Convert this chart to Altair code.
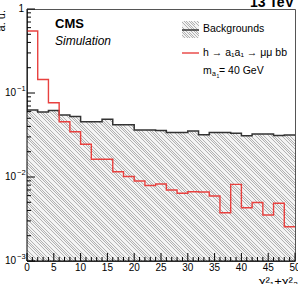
import math
import altair as alt
import pandas as pd

# chi2_1 + chi2_2 histogram, bins of width 2 between 0 and 50
bin_low = list(range(0, 50, 2))
background = [0.0628, 0.0594, 0.0619, 0.0547, 0.0525, 0.0455, 0.0455, 0.0488, 0.0420, 0.0420,
              0.0363, 0.0363, 0.0358, 0.0339, 0.0339, 0.0353, 0.0319, 0.0339, 0.0339, 0.0331,
              0.0309, 0.0325, 0.0325, 0.0311, 0.0316]
signal = [0.547, 0.145, 0.0767, 0.0455, 0.0346, 0.0245, 0.01625, 0.01625, 0.01156, 0.01014,
          0.00896, 0.00792, 0.00825, 0.0070, 0.0064, 0.00668, 0.00663, 0.00594, 0.00376, 0.00818,
          0.00431, 0.00497, 0.00353, 0.00486, 0.00256]

x_major = list(range(0, 51, 5))
x_minor = [v for v in range(0, 51) if v % 5]
y_major = [0.001, 0.01, 0.1, 1.0]
y_minor = [m * d for d in (0.001, 0.01, 0.1) for m in range(2, 10)]

W, H = 268, 252
YMIN, YMAX = 1e-3, 1.0
FONT = "Liberation Sans"
RED = "#e8413f"

# step-after histogram rows: bin left edges plus closing edge at 50
hist = pd.DataFrame({
    "x": bin_low + [50],
    "bkg": background + [background[-1]],
    "sig": signal + [signal[-1]],
})


def hatch(w, h, period=2.6, line=0.9, ink="#b2b2b2", paper="#f3f3f3"):
    """Linear gradient with hard stops that draws '\\' hatching over a w x h box."""
    r = h / w
    s = (1 + r) / (1 + r * r)
    n = (w + h) / period
    stops = []
    k = 0
    while k < n:
        a, b, c = k / n, (k + line / period) / n, (k + 1) / n
        stops += [
            {"offset": min(a, 1), "color": ink},
            {"offset": min(b, 1), "color": ink},
            {"offset": min(b, 1), "color": paper},
            {"offset": min(c, 1), "color": paper},
        ]
        k += 1
    return {"gradient": "linear", "x1": 0, "y1": 1, "x2": s, "y2": 1 - s * r, "stops": stops}


area_h = H * math.log10(max(background) / YMIN) / math.log10(YMAX / YMIN)

xs = alt.Scale(domain=[0, 50], nice=False, zero=False)
ys = alt.Scale(type="log", domain=[YMIN, YMAX], nice=False)
Xn = lambda f: alt.X(f, scale=xs, axis=None)
Yn = lambda f: alt.Y(f, scale=ys, axis=None)

bkg_fill = alt.Chart(hist).mark_area(
    interpolate="step-after", fill=hatch(W, area_h), opacity=1, strokeWidth=0
).encode(x=Xn("x:Q"), y=Yn("bkg:Q"), y2=alt.datum(YMIN))

bkg_line = alt.Chart(hist).mark_line(
    interpolate="step-after", color="#333333", strokeWidth=1.5
).encode(x=Xn("x:Q"), y=Yn("bkg:Q"))

sig_line = alt.Chart(hist).mark_line(
    interpolate="step-after", color=RED, strokeWidth=1.4
).encode(x=Xn("x:Q"), y=Yn("sig:Q"))

one = pd.DataFrame({"a": [0]})

# left and bottom axis lines
axis_lines = [
    alt.Chart(one).mark_rule(color="black", strokeWidth=1).encode(
        x=alt.value(0), y=alt.value(0), y2=alt.value(H)),
    alt.Chart(one).mark_rule(color="black", strokeWidth=1).encode(
        x=alt.value(0), x2=alt.value(W), y=alt.value(H)),
]


# inward tick marks
def yticks(vals, length):
    return alt.Chart(pd.DataFrame({"v": vals})).mark_rule(color="black", strokeWidth=1).encode(
        y=Yn("v:Q"), x=alt.value(0), x2=alt.value(length))


def xticks(vals, length):
    return alt.Chart(pd.DataFrame({"v": vals})).mark_rule(color="black", strokeWidth=1).encode(
        x=Xn("v:Q"), y=alt.value(H), y2=alt.value(H - length))


ticks = [yticks(y_major, 8), yticks(y_minor, 4), xticks(x_major, 8), xticks(x_minor, 4)]

# x tick labels
xlab = alt.Chart(pd.DataFrame({"v": x_major, "t": [str(v) for v in x_major]})).mark_text(
    font=FONT, fontSize=10, align="center", baseline="top", color="black"
).encode(x=Xn("v:Q"), y=alt.value(H + 2), text="t:N")

# y tick labels written as powers of ten
dec = pd.DataFrame({"v": [0.1, 0.01, 0.001], "base": ["10"] * 3,
                    "exp": ["\u22121", "\u22122", "\u22123"]})
ylab_base = alt.Chart(dec).mark_text(
    font=FONT, fontSize=10, align="right", baseline="middle", color="black"
).encode(y=Yn("v:Q"), x=alt.value(-11), text="base:N")
ylab_exp = alt.Chart(dec).mark_text(
    font=FONT, fontSize=7.5, align="left", baseline="middle", color="black", dy=-4
).encode(y=Yn("v:Q"), x=alt.value(-10), text="exp:N")
ylab_one = alt.Chart(pd.DataFrame({"v": [1.0], "t": ["1"]})).mark_text(
    font=FONT, fontSize=10, align="right", baseline="middle", color="black"
).encode(y=Yn("v:Q"), x=alt.value(-3), text="t:N")


def label(text, x, y, size=10.5, **kw):
    opts = dict(font=FONT, fontSize=size, color="black", align="left", baseline="middle")
    opts.update(kw)
    return alt.Chart(one).mark_text(text=text, **opts).encode(x=alt.value(x), y=alt.value(y))


texts = [
    label("CMS", 28, 19, size=13, fontWeight="bold", baseline="alphabetic"),
    label("Simulation", 28, 36, size=12, fontStyle="italic", baseline="alphabetic"),
    label("13 TeV", 267, -2.5, size=14, fontWeight="bold", align="right", baseline="alphabetic"),
    label("a. u.", -22, 1, size=11, angle=270, align="right", baseline="alphabetic"),
    label("\u03c7\u00b2\u2081+\u03c7\u00b2\u2082", 271, 277, size=13, align="right", baseline="alphabetic"),
    label("Backgrounds", 176, 20),
    label("h \u2192 a\u2081a\u2081 \u2192 \u03bc\u03bc bb", 176, 44),
    label("m", 176, 62),
    label("a", 185, 65, size=7),
    label("1", 189.5, 67, size=5),
    label("= 40 GeV", 192, 62),
]

# legend symbols
leg_box = alt.Chart(one).mark_rect(fill=hatch(17, 17), opacity=1).encode(
    x=alt.value(155), x2=alt.value(172), y=alt.value(12), y2=alt.value(29))
leg_bkg = alt.Chart(one).mark_rule(color="#333333", strokeWidth=1.5).encode(
    x=alt.value(155), x2=alt.value(172), y=alt.value(21))
leg_sig = alt.Chart(one).mark_rule(color=RED, strokeWidth=1.4).encode(
    x=alt.value(155), x2=alt.value(172), y=alt.value(44))

chart = alt.layer(
    bkg_fill, bkg_line, sig_line, *axis_lines, *ticks, xlab, ylab_base, ylab_exp, ylab_one,
    leg_box, leg_bkg, leg_sig, *texts
).properties(
    width=W, height=H,
    autosize=alt.AutoSizeParams(type="none"),
    padding={"left": 27, "top": 9, "right": 3, "bottom": 23},
    background="white",
).configure_view(stroke="#555555", strokeWidth=1)

chart.save("out.html", embed_options={"renderer": "svg", "actions": False})
